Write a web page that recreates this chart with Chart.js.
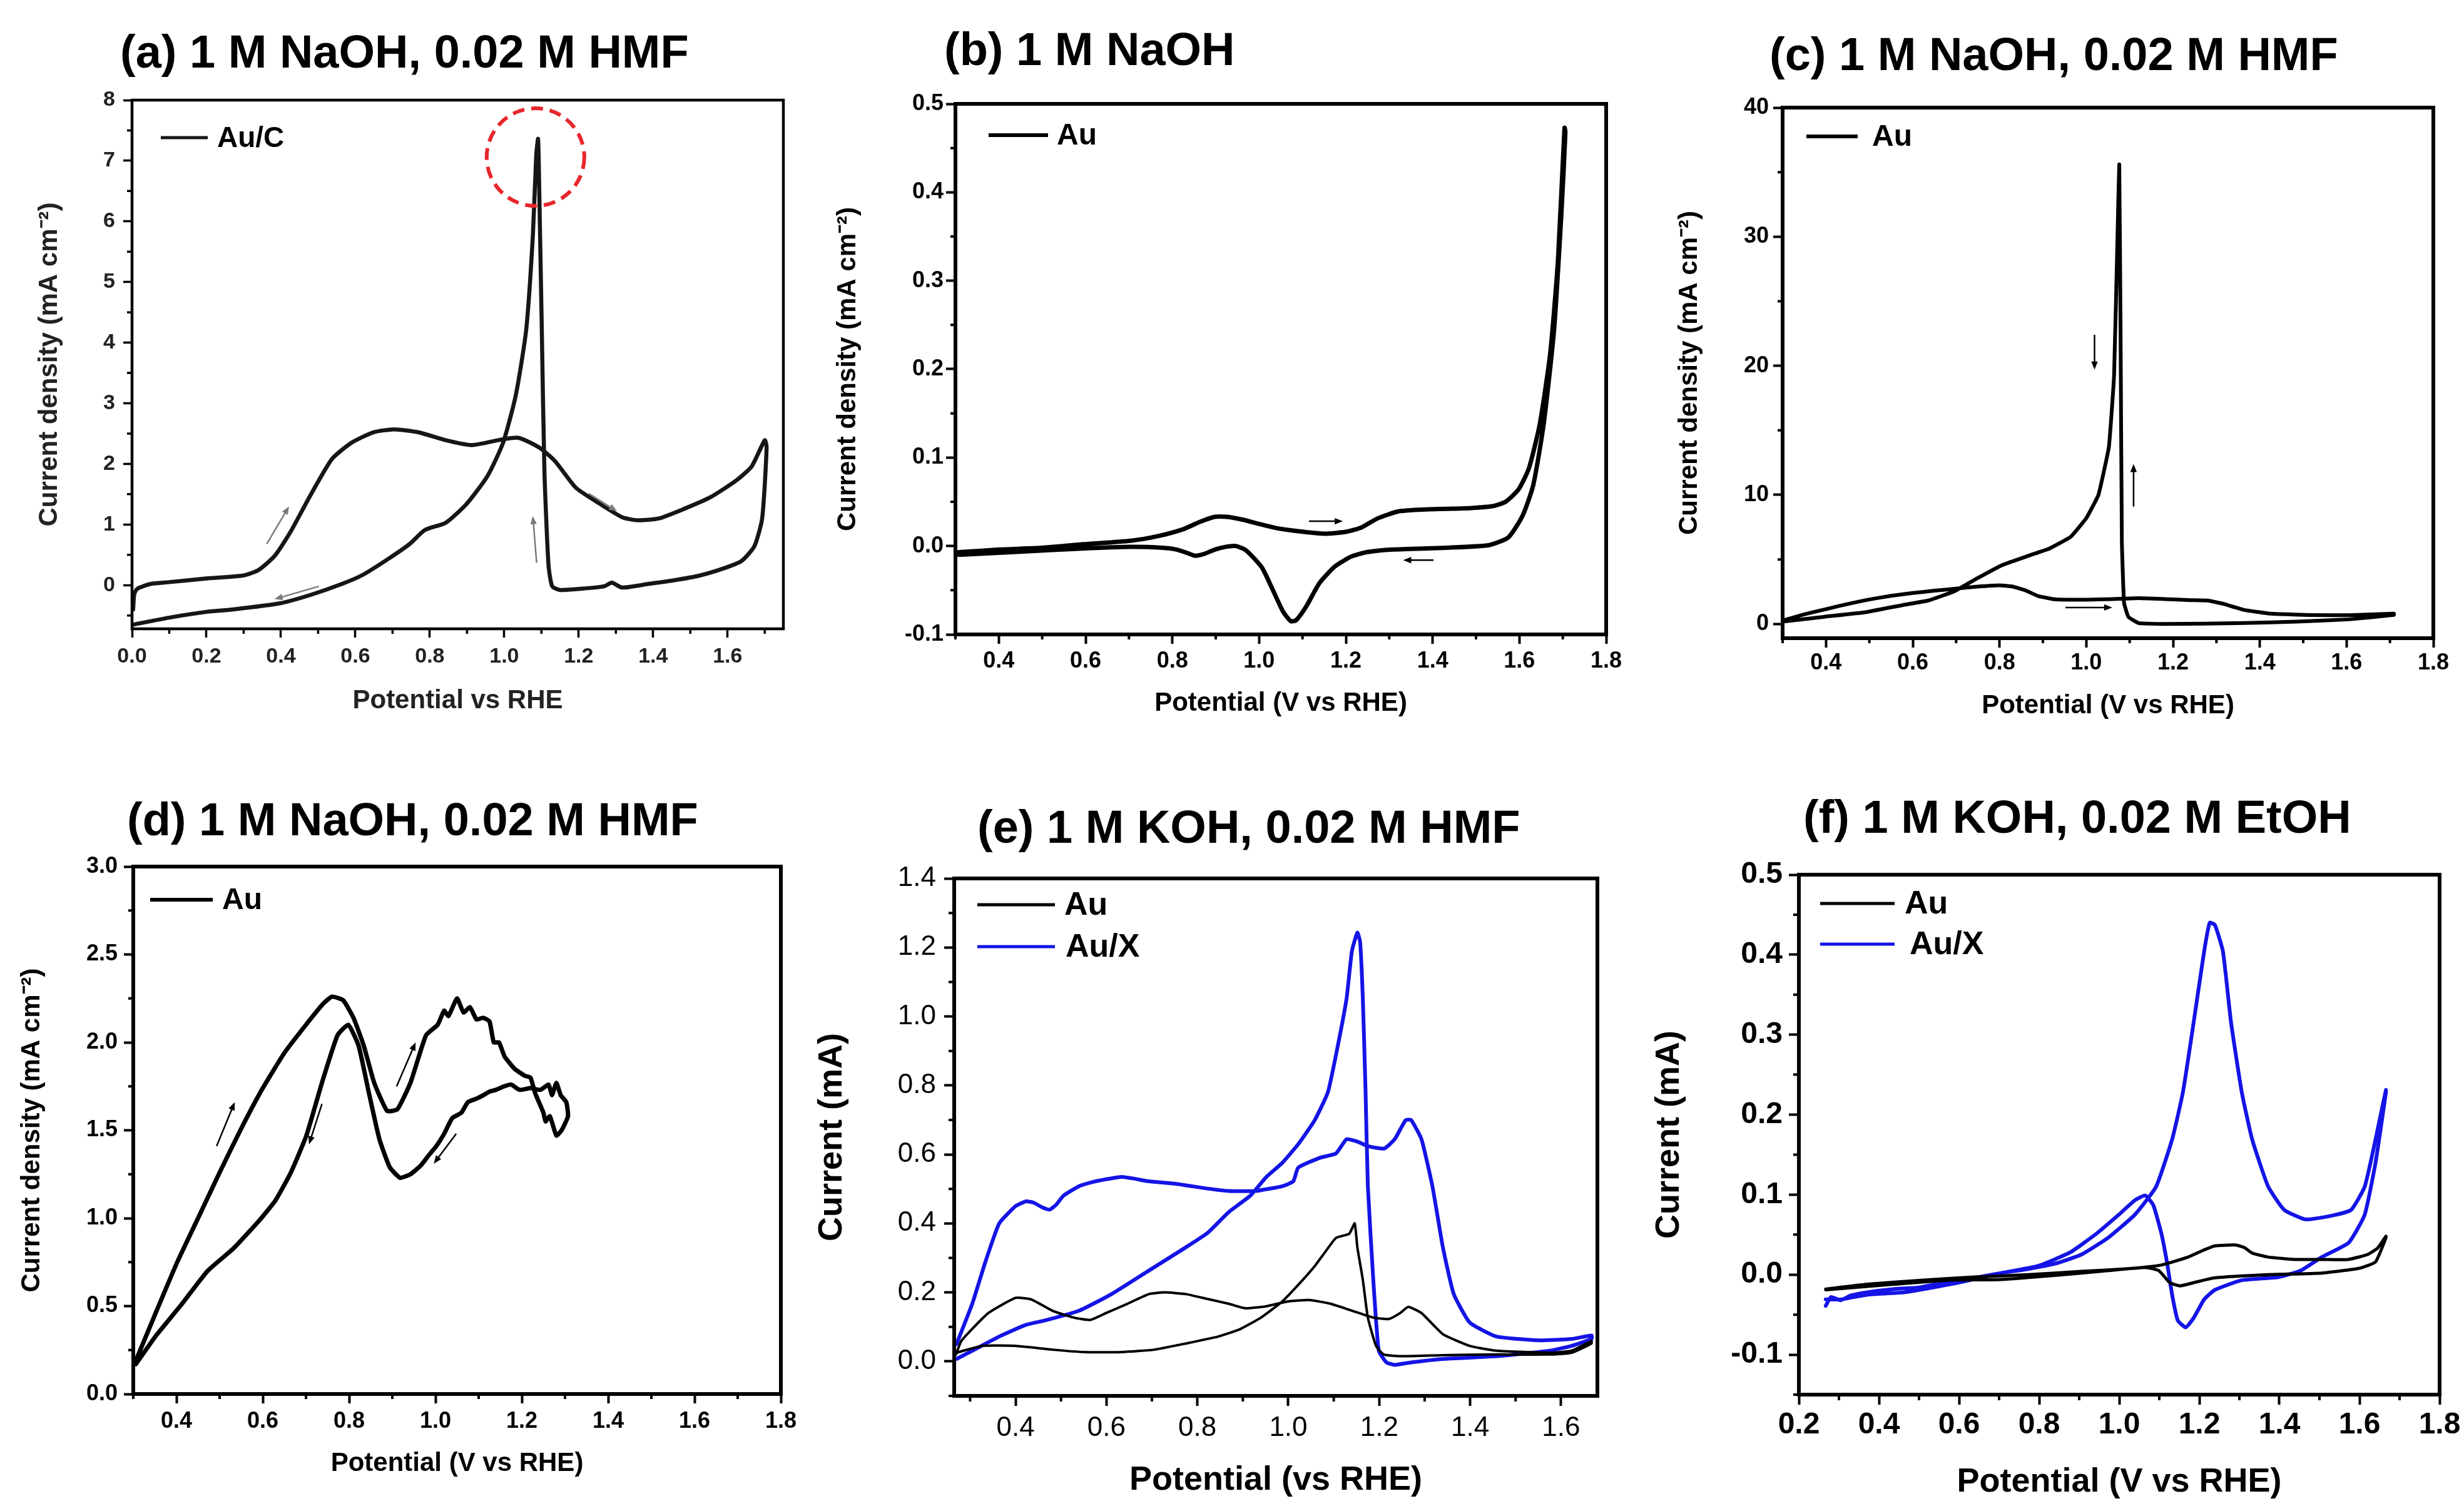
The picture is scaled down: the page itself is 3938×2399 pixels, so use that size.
<!DOCTYPE html>
<html>
<head>
<meta charset="utf-8">
<script src="https://cdn.jsdelivr.net/npm/chart.js@4.4.1/dist/chart.umd.min.js"></script>
<style>
    html, body { margin: 0; padding: 0; background: #fff; }
    body { width: 3938px; height: 2399px; position: relative; overflow: hidden; font-family: "Liberation Sans", Arial, sans-serif; }
    .panel-title { position: absolute; font-weight: bold; font-size: 74px; line-height: 74px; white-space: nowrap; color: #000; }
    canvas { position: absolute; }
</style>
</head>
<body>
<script>
// (a) Au/C, 1 M NaOH + 0.02 M HMF  (forward scan, then reverse)
const potentialA = [0.003, 0.006, 0.014, 0.05, 0.10, 0.20, 0.30, 0.34, 0.383, 0.425, 0.48, 0.537, 0.59, 0.648, 0.704, 0.77, 0.843, 0.913, 0.983, 1.038, 1.094, 1.136, 1.192, 1.247, 1.317, 1.359, 1.415, 1.484, 1.554, 1.624, 1.665, 1.70,
    1.705, 1.693, 1.672, 1.638, 1.596, 1.526, 1.456, 1.387, 1.317, 1.289, 1.268, 1.206, 1.150, 1.129, 1.119, 1.108, 1.101, 1.094, 1.091, 1.086, 1.077, 1.059, 1.031, 0.997, 0.955, 0.899, 0.843, 0.787, 0.746, 0.69, 0.62, 0.564, 0.48, 0.397, 0.272, 0.20, 0.105, 0.003];
const currentA = [-0.40, -0.15, -0.06, 0.02, 0.05, 0.11, 0.16, 0.25, 0.48, 0.87, 1.49, 2.08, 2.35, 2.52, 2.57, 2.52, 2.39, 2.31, 2.39, 2.43, 2.27, 2.05, 1.61, 1.38, 1.12, 1.07, 1.10, 1.26, 1.45, 1.73, 1.96, 2.39,
    2.27, 1.10, 0.64, 0.40, 0.29, 0.16, 0.08, 0.02, -0.04, 0.04, -0.02, -0.06, -0.08, -0.02, 0.33, 1.88, 4.21, 6.55, 7.36, 7.09, 5.77, 4.21, 3.13, 2.35, 1.80, 1.34, 1.03, 0.91, 0.68, 0.44, 0.17, 0.02, -0.16, -0.30, -0.40, -0.44, -0.53, -0.65];

// (b) Au, 1 M NaOH
const potentialB = [0.308, 0.402, 0.499, 0.596, 0.704, 0.765, 0.825, 0.862, 0.898, 0.925, 0.96, 1.0, 1.042, 1.103, 1.151, 1.2, 1.236, 1.272, 1.32, 1.369, 1.429, 1.49, 1.538, 1.568, 1.598, 1.622, 1.647, 1.671, 1.689, 1.704,
    1.706, 1.697, 1.68, 1.656, 1.632, 1.608, 1.575, 1.53, 1.429, 1.308, 1.248, 1.212, 1.175, 1.139, 1.109, 1.085, 1.073, 1.055, 1.03, 1.006, 0.97, 0.946, 0.922, 0.898, 0.873, 0.852, 0.835, 0.81, 0.777, 0.704, 0.584, 0.463, 0.308];
const currentB = [-0.007, -0.004, -0.002, 0.002, 0.006, 0.011, 0.019, 0.027, 0.033, 0.033, 0.030, 0.025, 0.020, 0.016, 0.014, 0.016, 0.021, 0.031, 0.039, 0.041, 0.042, 0.043, 0.045, 0.050, 0.064, 0.088, 0.138, 0.218, 0.324, 0.473,
    0.468, 0.378, 0.245, 0.138, 0.069, 0.035, 0.010, 0.001, -0.002, -0.004, -0.007, -0.012, -0.023, -0.042, -0.068, -0.084, -0.085, -0.074, -0.048, -0.024, -0.005, 0.000, -0.001, -0.004, -0.009, -0.011, -0.008, -0.004, -0.002, -0.001, -0.003, -0.006, -0.010];

// (c) Au, 1 M NaOH + 0.02 M HMF
const potentialC = [0.30, 0.35, 0.40, 0.45, 0.50, 0.55, 0.60, 0.65, 0.70, 0.75, 0.80, 0.83, 0.86, 0.89, 0.93, 1.00, 1.06, 1.12, 1.18, 1.24, 1.28, 1.315, 1.364, 1.424, 1.52, 1.606, 1.709,
    1.709, 1.606, 1.485, 1.364, 1.182, 1.121, 1.097, 1.087, 1.082, 1.079, 1.076, 1.072, 1.064, 1.052, 1.028, 1.0, 0.964, 0.915, 0.867, 0.806, 0.745, 0.697, 0.636, 0.576, 0.491, 0.394, 0.30];
const currentC = [0.26, 0.75, 1.15, 1.55, 1.90, 2.18, 2.40, 2.58, 2.74, 2.90, 3.00, 2.90, 2.60, 2.15, 1.90, 1.88, 1.93, 2.00, 1.93, 1.85, 1.82, 1.57, 1.09, 0.80, 0.69, 0.68, 0.80,
    0.70, 0.36, 0.18, 0.07, 0.00, 0.07, 0.55, 1.64, 6.4, 22.8, 35.6, 30.1, 19.2, 13.7, 10.0, 8.2, 6.75, 5.84, 5.29, 4.56, 3.47, 2.55, 1.82, 1.46, 0.91, 0.55, 0.18];

// (d) Au, 1 M NaOH + 0.02 M HMF (upper potential 1.3 V)
const potentialD = [0.306, 0.35, 0.40, 0.45, 0.50, 0.55, 0.60, 0.65, 0.70, 0.74, 0.76, 0.786, 0.81, 0.834, 0.858, 0.888, 0.912, 0.942, 0.978, 1.005, 1.02, 1.03, 1.05, 1.065, 1.08, 1.095, 1.11, 1.125, 1.135, 1.147, 1.16, 1.183, 1.207, 1.22, 1.231, 1.25, 1.255, 1.265, 1.28, 1.292, 1.307,
    1.303, 1.29, 1.28, 1.27, 1.262, 1.243, 1.22, 1.195, 1.175, 1.159, 1.14, 1.125, 1.111, 1.095, 1.075, 1.06, 1.039, 1.02, 1.002, 0.985, 0.966, 0.942, 0.918, 0.894, 0.87, 0.846, 0.822, 0.798, 0.773, 0.737, 0.701, 0.665, 0.629, 0.593, 0.533, 0.472, 0.412, 0.352, 0.306];
const currentD = [0.19, 0.45, 0.74, 1.00, 1.26, 1.51, 1.74, 1.94, 2.10, 2.22, 2.26, 2.24, 2.14, 1.98, 1.77, 1.61, 1.62, 1.77, 2.04, 2.10, 2.18, 2.15, 2.25, 2.17, 2.20, 2.13, 2.14, 2.12, 2.00, 2.00, 1.92, 1.85, 1.81, 1.80, 1.71, 1.60, 1.55, 1.58, 1.47, 1.50, 1.58,
    1.66, 1.70, 1.77, 1.70, 1.76, 1.73, 1.74, 1.73, 1.76, 1.75, 1.73, 1.72, 1.70, 1.68, 1.66, 1.60, 1.57, 1.48, 1.41, 1.36, 1.30, 1.25, 1.23, 1.29, 1.45, 1.71, 1.98, 2.10, 2.04, 1.77, 1.47, 1.26, 1.10, 0.99, 0.83, 0.70, 0.51, 0.33, 0.17];

// (e) 1 M KOH + 0.02 M HMF
const potentialEAu = [0.269, 0.281, 0.34, 0.40, 0.434, 0.481, 0.528, 0.564, 0.599, 0.646, 0.693, 0.728, 0.775, 0.822, 0.869, 0.905, 0.952, 0.999, 1.046, 1.093, 1.14, 1.187, 1.222, 1.246, 1.264, 1.293, 1.34, 1.399, 1.458, 1.576, 1.623, 1.667,
    1.667, 1.623, 1.576, 1.458, 1.34, 1.246, 1.21, 1.193, 1.175, 1.164, 1.152, 1.146, 1.134, 1.105, 1.081, 1.058, 1.022, 0.987, 0.94, 0.893, 0.846, 0.775, 0.705, 0.634, 0.552, 0.481, 0.399, 0.328, 0.269];
const currentEAu = [0.02, 0.06, 0.14, 0.184, 0.18, 0.147, 0.127, 0.12, 0.14, 0.167, 0.195, 0.20, 0.195, 0.181, 0.167, 0.154, 0.16, 0.174, 0.178, 0.167, 0.147, 0.127, 0.123, 0.14, 0.158, 0.14, 0.079, 0.045, 0.031, 0.025, 0.031, 0.059,
    0.052, 0.025, 0.02, 0.02, 0.018, 0.015, 0.02, 0.045, 0.127, 0.236, 0.33, 0.40, 0.37, 0.358, 0.317, 0.276, 0.222, 0.174, 0.127, 0.093, 0.072, 0.052, 0.034, 0.027, 0.027, 0.034, 0.045, 0.045, 0.025];
const potentialEAuX = [0.27, 0.305, 0.334, 0.364, 0.40, 0.423, 0.44, 0.458, 0.475, 0.49, 0.505, 0.54, 0.57, 0.599, 0.634, 0.66, 0.693, 0.752, 0.822, 0.869, 0.928, 0.987, 1.011, 1.022, 1.069, 1.105, 1.128, 1.152, 1.175, 1.211, 1.234, 1.258, 1.27, 1.293, 1.317, 1.34, 1.364, 1.399, 1.458, 1.552, 1.623, 1.667,
    1.667, 1.623, 1.576, 1.458, 1.34, 1.27, 1.234, 1.216, 1.199, 1.187, 1.175, 1.17, 1.164, 1.158, 1.152, 1.14, 1.128, 1.105, 1.087, 1.058, 1.022, 0.987, 0.952, 0.916, 0.869, 0.822, 0.775, 0.693, 0.611, 0.54, 0.469, 0.423, 0.364, 0.305, 0.27];
const currentEAuX = [0.05, 0.168, 0.29, 0.40, 0.45, 0.464, 0.46, 0.447, 0.44, 0.455, 0.48, 0.508, 0.52, 0.528, 0.535, 0.53, 0.522, 0.515, 0.501, 0.494, 0.494, 0.508, 0.522, 0.562, 0.59, 0.603, 0.644, 0.637, 0.624, 0.617, 0.644, 0.699, 0.70, 0.644, 0.508, 0.331, 0.195, 0.113, 0.072, 0.061, 0.065, 0.075,
    0.065, 0.045, 0.031, 0.015, 0.007, -0.003, -0.01, -0.003, 0.031, 0.236, 0.508, 0.78, 1.05, 1.216, 1.243, 1.19, 1.05, 0.889, 0.78, 0.699, 0.63, 0.576, 0.535, 0.48, 0.433, 0.372, 0.331, 0.263, 0.195, 0.147, 0.12, 0.106, 0.072, 0.031, 0.007];

// (f) 1 M KOH + 0.02 M EtOH
const potentialFAu = [0.267, 0.371, 0.505, 0.638, 0.772, 0.905, 1.039, 1.105, 1.172, 1.212, 1.239, 1.292, 1.312, 1.332, 1.372, 1.439, 1.506, 1.572, 1.619, 1.645, 1.666,
    1.666, 1.64, 1.6, 1.506, 1.372, 1.239, 1.186, 1.152, 1.126, 1.099, 1.065, 0.972, 0.838, 0.705, 0.571, 0.438, 0.267];
const currentFAu = [-0.018, -0.012, -0.007, -0.003, 0.0, 0.004, 0.008, 0.012, 0.022, 0.031, 0.036, 0.037, 0.034, 0.027, 0.022, 0.019, 0.019, 0.019, 0.025, 0.033, 0.048,
    0.046, 0.016, 0.008, 0.002, 0.0, -0.004, -0.010, -0.014, -0.010, 0.005, 0.009, 0.005, -0.001, -0.006, -0.007, -0.012, -0.019];
const potentialFAuX = [0.267, 0.28, 0.304, 0.33, 0.371, 0.438, 0.5, 0.571, 0.638, 0.705, 0.772, 0.838, 0.905, 0.972, 1.039, 1.092, 1.132, 1.159, 1.186, 1.212, 1.226, 1.239, 1.259, 1.279, 1.306, 1.332, 1.372, 1.412, 1.466, 1.533, 1.579, 1.613, 1.64, 1.666,
    1.666, 1.64, 1.613, 1.573, 1.506, 1.453, 1.399, 1.306, 1.239, 1.212, 1.186, 1.166, 1.146, 1.132, 1.119, 1.105, 1.085, 1.065, 1.039, 0.999, 0.945, 0.878, 0.798, 0.705, 0.598, 0.465, 0.371, 0.304, 0.267];
const currentFAuX = [-0.039, -0.028, -0.032, -0.026, -0.022, -0.018, -0.016, -0.009, -0.004, 0.002, 0.007, 0.0135, 0.025, 0.046, 0.075, 0.11, 0.169, 0.228, 0.316, 0.404, 0.44, 0.437, 0.404, 0.316, 0.228, 0.169, 0.11, 0.081, 0.069, 0.074, 0.081, 0.11, 0.169, 0.231,
    0.228, 0.14, 0.075, 0.04, 0.022, 0.005, -0.003, -0.007, -0.019, -0.031, -0.054, -0.066, -0.057, -0.025, 0.016, 0.052, 0.087, 0.099, 0.093, 0.075, 0.052, 0.028, 0.011, 0.002, -0.01, -0.022, -0.025, -0.031, -0.031];

// tick values
const xTicksA = [0, 0.2, 0.4, 0.6, 0.8, 1.0, 1.2, 1.4, 1.6];
const yTicksA = [0, 1, 2, 3, 4, 5, 6, 7, 8];
const xTicksBCD = [0.4, 0.6, 0.8, 1.0, 1.2, 1.4, 1.6, 1.8];
const yTicksB = [-0.1, 0, 0.1, 0.2, 0.3, 0.4, 0.5];
const yTicksC = [0, 10, 20, 30, 40];
const yTicksD = [0, 0.5, 1.0, 1.5, 2.0, 2.5, 3.0];
const xTicksE = [0.4, 0.6, 0.8, 1.0, 1.2, 1.4, 1.6];
const yTicksE = [0, 0.2, 0.4, 0.6, 0.8, 1.0, 1.2, 1.4];
const xTicksF = [0.2, 0.4, 0.6, 0.8, 1.0, 1.2, 1.4, 1.6, 1.8];
const yTicksF = [-0.1, 0, 0.1, 0.2, 0.3, 0.4, 0.5];

// scan direction arrows [x1, y1, x2, y2] in data units, and the marked peak
const arrowsA = [[0.362, 0.68, 0.422, 1.30], [0.502, -0.02, 0.383, -0.23], [1.087, 0.37, 1.077, 1.14], [1.227, 1.51, 1.303, 1.22]];
const arrowsB = [[1.115, 0.028, 1.193, 0.028], [1.402, -0.016, 1.332, -0.016]];
const arrowsC = [[1.019, 22.4, 1.019, 19.7], [1.109, 9.1, 1.109, 12.4], [0.952, 1.28, 1.06, 1.28]];
const arrowsD = [[0.493, 1.41, 0.535, 1.66], [0.737, 1.65, 0.707, 1.42], [0.91, 1.75, 0.954, 2.0], [1.048, 1.48, 0.996, 1.31]];
const peakMarkA = [1.084, 7.06];

const FONT = '"Liberation Sans", Arial, sans-serif';
Chart.defaults.font.family = FONT;

const zip = (xs, ys) => xs.map((x, i) => ({ x, y: ys[i] }));

const framePlugin = {
    id: 'frame',
    afterDraw(chart, args, o) {
        const { ctx, chartArea: a, scales } = chart;
        ctx.save();
        ctx.strokeStyle = '#000';
        ctx.lineWidth = o.tickWidth;
        const minor = (scale, step, draw) => {
            for (let v = Math.ceil(scale.min / step - 1e-9) * step; v <= scale.max + 1e-9; v += step) {
                if (scale.ticks.some(t => Math.abs(t.value - v) < step / 10)) continue;
                draw(scale.getPixelForValue(v));
            }
        };
        ctx.beginPath();
        minor(scales.x, o.minorX, px => { ctx.moveTo(px, a.bottom); ctx.lineTo(px, a.bottom + o.minorLen); });
        minor(scales.y, o.minorY, py => { ctx.moveTo(a.left, py); ctx.lineTo(a.left - o.minorLen, py); });
        ctx.stroke();
        ctx.lineWidth = o.width;
        ctx.strokeRect(a.left, a.top, a.right - a.left, a.bottom - a.top);
        ctx.restore();
    }
};

const keyPlugin = {
    id: 'key',
    afterDraw(chart, args, o) {
        const { ctx, chartArea: a } = chart;
        ctx.save();
        chart.data.datasets.forEach((ds, i) => {
            const x = a.left + o.x;
            const y = a.top + o.y + i * o.row;
            ctx.strokeStyle = ds.borderColor;
            ctx.lineWidth = o.lineWidth;
            ctx.beginPath();
            ctx.moveTo(x, y);
            ctx.lineTo(x + o.len, y);
            ctx.stroke();
            ctx.fillStyle = '#000';
            ctx.font = `bold ${o.size}px ${FONT}`;
            ctx.textBaseline = 'middle';
            ctx.fillText(ds.label, x + o.len + o.gap + (o.shift ? o.shift[i] : 0), y + 2);
        });
        ctx.restore();
    }
};

const notesPlugin = {
    id: 'notes',
    afterDatasetsDraw(chart, args, o) {
        const { ctx, scales: { x, y } } = chart;
        ctx.save();
        ctx.strokeStyle = o.color;
        ctx.fillStyle = o.color;
        ctx.lineWidth = o.width;
        (o.arrows || []).forEach(([x1, y1, x2, y2]) => {
            const X1 = x.getPixelForValue(x1), Y1 = y.getPixelForValue(y1);
            const X2 = x.getPixelForValue(x2), Y2 = y.getPixelForValue(y2);
            const ang = Math.atan2(Y2 - Y1, X2 - X1);
            const h = o.head;
            ctx.beginPath();
            ctx.moveTo(X1, Y1);
            ctx.lineTo(X2 - Math.cos(ang) * h * 0.8, Y2 - Math.sin(ang) * h * 0.8);
            ctx.stroke();
            ctx.beginPath();
            ctx.moveTo(X2, Y2);
            ctx.lineTo(X2 - h * Math.cos(ang) + h * 0.4 * Math.sin(ang), Y2 - h * Math.sin(ang) - h * 0.4 * Math.cos(ang));
            ctx.lineTo(X2 - h * Math.cos(ang) - h * 0.4 * Math.sin(ang), Y2 - h * Math.sin(ang) + h * 0.4 * Math.cos(ang));
            ctx.closePath();
            ctx.fill();
        });
        if (o.circle) {
            ctx.strokeStyle = '#e8262b';
            ctx.lineWidth = 6;
            ctx.setLineDash([19, 11]);
            ctx.beginPath();
            ctx.arc(x.getPixelForValue(o.circle[0]), y.getPixelForValue(o.circle[1]), o.radius, 0, Math.PI * 2);
            ctx.stroke();
        }
        ctx.restore();
    }
};

function makePanel(p) {
    const title = document.createElement('div');
    title.className = 'panel-title';
    title.textContent = p.title;
    title.style.left = p.titleX + 'px';
    title.style.top = (p.titleY - 37) + 'px';
    document.body.appendChild(title);

    const axisLine = p.axisFont.size * 1.2;
    const left = Math.round(p.yTitleX - axisLine / 2 - 4);
    const top = p.plot.t - 45;
    const right = p.plot.r + 55;
    const bottom = Math.round(p.xTitleY + axisLine / 2 + 4);
    const w = right - left;
    const h = bottom - top;

    const canvas = document.createElement('canvas');
    canvas.width = w;
    canvas.height = h;
    canvas.style.left = left + 'px';
    canvas.style.top = top + 'px';
    canvas.style.width = w + 'px';
    canvas.style.height = h + 'px';
    document.body.appendChild(canvas);

    const tickOpts = (dec, pad) => ({
        font: p.tickFont,
        color: p.textColor,
        padding: pad,
        autoSkip: false,
        maxRotation: 0,
        callback: v => Number(v).toFixed(dec)
    });
    const grid = {
        drawOnChartArea: false,
        drawTicks: true,
        tickLength: p.tickLen,
        tickWidth: p.tickWidth,
        tickColor: '#000'
    };

    new Chart(canvas, {
        type: 'scatter',
        data: {
            datasets: p.series.map(s => ({
                label: s.label,
                data: zip(s.xs, s.ys),
                showLine: true,
                borderColor: s.color,
                borderWidth: s.width,
                borderJoinStyle: 'round',
                borderCapStyle: 'round',
                pointRadius: 0,
                tension: p.tension,
                fill: false
            }))
        },
        options: {
            responsive: false,
            animation: false,
            devicePixelRatio: 1,
            layout: { padding: { left: 0, top: p.plot.t - top, right: right - p.plot.r, bottom: 0 } },
            plugins: {
                legend: { display: false },
                tooltip: { enabled: false },
                frame: { width: p.frameWidth, tickWidth: p.tickWidth, minorX: p.minorX, minorY: p.minorY, minorLen: p.minorLen },
                key: p.key,
                notes: { arrows: p.arrows, color: p.arrowColor || '#000', width: 2.5, head: 13, circle: p.circle, radius: 78 }
            },
            scales: {
                x: {
                    type: 'linear',
                    position: 'bottom',
                    min: p.xMin,
                    max: p.xMax,
                    afterBuildTicks: s => { s.ticks = p.xTicks.map(v => ({ value: v })); },
                    afterFit: s => { s.height = bottom - p.plot.b; },
                    ticks: tickOpts(p.xDec, p.tickPadX),
                    grid,
                    border: { display: false },
                    title: { display: true, text: p.xTitle, font: p.axisFont, color: p.textColor, padding: { top: 0, bottom: 4 } }
                },
                y: {
                    type: 'linear',
                    position: 'left',
                    min: p.yMin,
                    max: p.yMax,
                    afterBuildTicks: s => { s.ticks = p.yTicks.map(v => ({ value: v })); },
                    afterFit: s => { s.width = p.plot.l - left; },
                    ticks: tickOpts(p.yDec, p.tickPadY),
                    grid,
                    border: { display: false },
                    title: { display: true, text: p.yTitle, font: p.axisFont, color: p.textColor, padding: { top: 4, bottom: 0 } }
                }
            }
        },
        plugins: [framePlugin, keyPlugin, notesPlugin]
    });
}

const densityTitle = 'Current density (mA cm\u207B\u00B2)';
const boldTick = { size: 36, weight: 'bold' };
const boldAxis = { size: 42, weight: 'bold' };

makePanel({
    title: '(a) 1 M NaOH, 0.02 M HMF', titleX: 192, titleY: 83,
    plot: { l: 211, t: 160, r: 1252, b: 1005 }, yTitleX: 79, xTitleY: 1121,
    xMin: 0, xMax: 1.75, xTicks: xTicksA, xDec: 1, minorX: 0.1, xTitle: 'Potential vs RHE',
    yMin: -0.72, yMax: 8, yTicks: yTicksA, yDec: 0, minorY: 0.5, yTitle: densityTitle,
    tickFont: { size: 34, weight: 'bold' }, axisFont: boldAxis, textColor: '#222',
    tickLen: 14, minorLen: 8, tickWidth: 3.5, tickPadX: 10, tickPadY: 13, frameWidth: 4.5, tension: 0.2,
    key: { x: 46, y: 60, len: 75, gap: 15, row: 0, size: 46, lineWidth: 5 },
    series: [{ label: 'Au/C', xs: potentialA, ys: currentA, color: '#161616', width: 6.5 }],
    arrows: arrowsA, arrowColor: '#7a7a7a', circle: peakMarkA
});

makePanel({
    title: '(b) 1 M NaOH', titleX: 1509, titleY: 79,
    plot: { l: 1527, t: 166, r: 2567, b: 1014 }, yTitleX: 1355, xTitleY: 1125,
    xMin: 0.3, xMax: 1.8, xTicks: xTicksBCD, xDec: 1, minorX: 0.1, xTitle: 'Potential (V vs RHE)',
    yMin: -0.1, yMax: 0.5, yTicks: yTicksB, yDec: 1, minorY: 0.05, yTitle: densityTitle,
    tickFont: boldTick, axisFont: boldAxis, textColor: '#000',
    tickLen: 15, minorLen: 8, tickWidth: 4, tickPadX: 6, tickPadY: 4, frameWidth: 6, tension: 0.2,
    key: { x: 53, y: 50, len: 95, gap: 14, row: 0, size: 48, lineWidth: 6 },
    series: [{ label: 'Au', xs: potentialB, ys: currentB, color: '#000', width: 7 }],
    arrows: arrowsB
});

makePanel({
    title: '(c) 1 M NaOH, 0.02 M HMF', titleX: 2828, titleY: 87,
    plot: { l: 2849, t: 172, r: 3889, b: 1020 }, yTitleX: 2700, xTitleY: 1129,
    xMin: 0.3, xMax: 1.8, xTicks: xTicksBCD, xDec: 1, minorX: 0.1, xTitle: 'Potential (V vs RHE)',
    yMin: -1.1, yMax: 40, yTicks: yTicksC, yDec: 0, minorY: 5, yTitle: densityTitle,
    tickFont: boldTick, axisFont: boldAxis, textColor: '#000',
    tickLen: 15, minorLen: 8, tickWidth: 4, tickPadX: 3, tickPadY: 7, frameWidth: 6, tension: 0.1,
    key: { x: 38, y: 46, len: 82, gap: 23, row: 0, size: 48, lineWidth: 6 },
    series: [{ label: 'Au', xs: potentialC, ys: currentC, color: '#000', width: 6 }],
    arrows: arrowsC
});

makePanel({
    title: '(d) 1 M NaOH, 0.02 M HMF', titleX: 203, titleY: 1310,
    plot: { l: 213, t: 1385, r: 1248, b: 2228 }, yTitleX: 51, xTitleY: 2340,
    xMin: 0.3, xMax: 1.8, xTicks: xTicksBCD, xDec: 1, minorX: 0.1, xTitle: 'Potential (V vs RHE)',
    yMin: 0, yMax: 3, yTicks: yTicksD, yDec: 1, minorY: 0.25, yTitle: densityTitle,
    tickFont: boldTick, axisFont: boldAxis, textColor: '#000',
    tickLen: 15, minorLen: 8, tickWidth: 4, tickPadX: 7, tickPadY: 10, frameWidth: 6, tension: 0.15,
    key: { x: 27, y: 53, len: 100, gap: 15, row: 0, size: 48, lineWidth: 6 },
    series: [{ label: 'Au', xs: potentialD, ys: currentD, color: '#000', width: 7 }],
    arrows: arrowsD
});

makePanel({
    title: '(e) 1 M KOH, 0.02 M HMF', titleX: 1562, titleY: 1322,
    plot: { l: 1525, t: 1404, r: 2553, b: 2231 }, yTitleX: 1330, xTitleY: 2367,
    xMin: 0.265, xMax: 1.68, xTicks: xTicksE, xDec: 1, minorX: 0.1, xTitle: 'Potential (vs RHE)',
    yMin: -0.1, yMax: 1.4, yTicks: yTicksE, yDec: 1, minorY: 0.1, yTitle: 'Current (mA)',
    tickFont: { size: 44, weight: 'normal' }, axisFont: { size: 54, weight: 'bold' }, textColor: '#000',
    tickLen: 16, minorLen: 9, tickWidth: 4, tickPadX: 9, tickPadY: 13, frameWidth: 6, tension: 0.15,
    key: { x: 37, y: 42, len: 124, gap: 15, row: 67, size: 52, lineWidth: 5, shift: [0, 2] },
    series: [
        { label: 'Au', xs: potentialEAu, ys: currentEAu, color: '#000', width: 4 },
        { label: 'Au/X', xs: potentialEAuX, ys: currentEAuX, color: '#1414e6', width: 6 }
    ]
});

makePanel({
    title: '(f) 1 M KOH, 0.02 M EtOH', titleX: 2882, titleY: 1306,
    plot: { l: 2875, t: 1398, r: 3899, b: 2229 }, yTitleX: 2668, xTitleY: 2370,
    xMin: 0.2, xMax: 1.8, xTicks: xTicksF, xDec: 1, minorX: 0.1, xTitle: 'Potential (V vs RHE)',
    yMin: -0.15, yMax: 0.5, yTicks: yTicksF, yDec: 1, minorY: 0.05, yTitle: 'Current (mA)',
    tickFont: { size: 48, weight: 'bold' }, axisFont: { size: 54, weight: 'bold' }, textColor: '#000',
    tickLen: 16, minorLen: 9, tickWidth: 4, tickPadX: 4, tickPadY: 10, frameWidth: 6, tension: 0.15,
    key: { x: 34, y: 46, len: 119, gap: 16, row: 65, size: 52, lineWidth: 5, shift: [0, 8] },
    series: [
        { label: 'Au', xs: potentialFAu, ys: currentFAu, color: '#000', width: 5 },
        { label: 'Au/X', xs: potentialFAuX, ys: currentFAuX, color: '#1414e6', width: 6 }
    ]
});
</script>
</body>
</html>
